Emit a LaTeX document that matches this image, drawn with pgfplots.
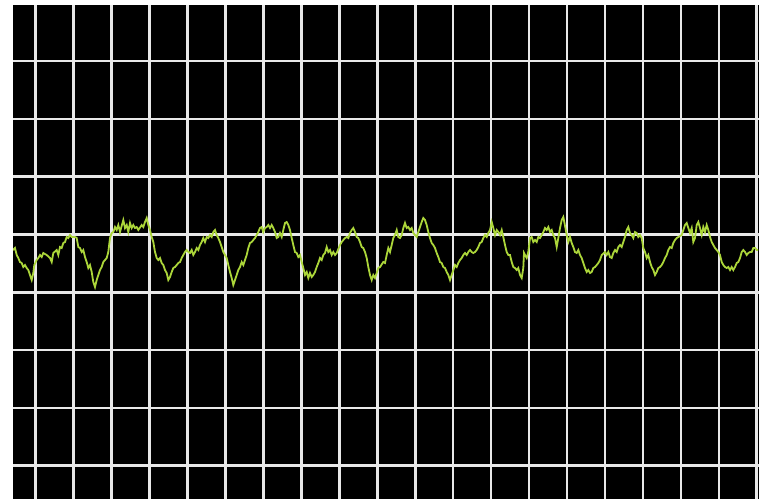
\documentclass[border=0pt]{standalone}
\usepackage{pgfplots}
\pgfplotsset{compat=1.18}
\definecolor{trace}{RGB}{172,214,58}
\definecolor{gridc}{RGB}{232,232,232}
\begin{document}
\begin{tikzpicture}
\path[fill=white, use as bounding box] (-13pt,0pt) rectangle (746pt,499pt);
\begin{axis}[
  at={(0pt,0pt)}, anchor=south west,
  scale only axis, width=746pt, height=494pt,
  xmin=13, xmax=759, ymin=5, ymax=499, y dir=reverse,
  axis background/.style={fill=black},
  axis line style={draw=none},
  major tick length=0pt,
  xticklabels={}, yticklabels={},
  xtick={35.7,73.65,111.6,149.55,187.5,225.45,263.4,301.35,339.3,377.25,415.2,453.15,491.1,529.05,567,604.95,642.9,680.85,718.8,756.75},
  ytick={61,118.8,176.7,234.5,292.3,350.1,407.9,465.7},
  grid=major,
  grid style={draw=gridc, line width=2.6pt},
  clip=true,
]
\addplot[trace, line width=1.8pt, line join=miter] coordinates {
(13,250)(15,248)(16.7,255)(18.3,258)(20,262)(21.7,263)(23.3,267)(25,265)(26.7,268)(28.3,270)(30,275)(31.7,280)(33.3,273)(34.3,265)(36.7,260)(38.3,258)(40,255)(41.7,257)(43.3,253)(46.7,255)(50,258)(51.7,262)(53.3,253)(56.7,250)(58.3,255)(60,247)(61.7,248)(63.3,243)(65,242)(66.7,237)(68.3,238)(70,235)(71.7,237)
(75,237)(76.7,238)(78.3,247)(80,248)(81.7,252)(83.3,250)(85,257)(86.7,262)(88.3,268)(90,265)(91.7,272)(93.3,282)(95,287)(96.7,280)(98.3,275)(100,270)(101.7,267)(103.3,262)(105,260)(106.7,258)(108.3,252)(110,238)
(111.7,233)(113.3,232)(115,227)(116.7,230)(118.3,225)(120,232)(123.3,220)(125,228)(126.7,225)(128.3,232)(130,223)(131.7,228)(133.3,225)
(135,228)(136.7,227)(138.3,230)(141.7,225)(143.3,227)(145,222)(146.7,218)(148.3,225)(150,230)
(151.7,237)(153.3,242)(155,252)(156.7,258)(158.3,260)(160,258)(161.7,263)(163.3,265)(165,270)(166.7,273)(168.3,280)(170,277)(171.7,272)(173.3,268)(175,267)(176.7,265)(178.3,263)(180,262)(181.7,258)(183.3,255)(185,252)(186.7,250)
(188.3,252)(190,253)(191.7,250)(193.3,255)(195,252)(196.7,248)(198.3,250)(200,245)(201.7,242)(203.3,238)(205,242)(206.7,237)(208.3,238)(210,235)(211.7,237)(213.3,232)(215,230)(216.7,235)(218.3,238)(220,242)(221.7,247)(223.3,252)
(225,255)(226.7,258)(228.3,265)(230,272)(231.7,278)(233.3,285)(235,280)(236.7,275)(238.3,270)(240,267)(241.7,262)(243.3,265)(245,260)(246.7,255)(248.3,248)(250,243)(251.7,242)(253.3,240)(255,238)(256.7,235)(258.3,232)
(260,228)(261.7,227)(263.3,232)(265,228)(266.7,227)(268.3,225)(270,228)(271.7,225)(273.3,228)(275,232)(276.7,238)(278.3,237)(280,233)(281.7,237)(283.3,230)(285,223)(286.7,222)(288.3,225)(290,230)(291.7,238)(293.3,245)(295,252)(296.7,253)(298.3,257)(300,255)
(301.7,262)(303.3,268)(305,275)(306.7,272)(308.3,278)(310,273)(311.7,277)(313.3,275)(315,272)(316.7,267)(318.3,263)(320,258)(321.7,260)(323.3,255)(325,253)(326.7,247)(328.3,252)(330,250)(331.7,255)(333.3,252)(335,255)(336.7,253)
(340,245)(341.7,242)(343.3,240)(345,238)(346.7,237)(348.3,238)(350,233)(351.7,230)(353.3,228)(355,232)(356.7,237)(358.3,238)(360,242)(361.7,247)(363.3,248)(365,252)(366.7,258)(368.3,267)(370,275)(371.7,280)(373.3,275)(375,278)(376.7,273)(378.3,268)(380,267)(383.3,262)
(385,263)(386.7,255)(388.3,248)(390,252)(391.7,245)(393.3,238)(395,235)(396.7,230)(398.3,237)(400,238)(401.7,235)(403.3,228)(405,223)(406.7,228)(408.3,227)(410,230)(411.7,228)
(413.3,233)(416.7,237)(418.3,232)(420,227)(421.7,222)(423.3,218)(425,220)(426.7,225)(428.3,232)(430,238)(431.7,243)(433.3,245)(435,248)(436.7,253)(438.3,257)(440,262)(441.7,263)(443.3,267)(445,268)(446.7,272)(448.3,275)(450,280)
(453.3,270)(455,265)(456.7,267)(458.3,263)(460,260)(461.7,258)(463.3,255)(465,253)(466.7,255)(468.3,252)(470,250)(471.7,252)(473.3,253)(475,252)(476.7,250)(478.3,247)(480,243)(481.7,242)(483.3,238)(485,235)(486.7,237)(488.3,233)(490,230)(491.7,222)(493.3,228)(495,235)(496.7,230)(498.3,232)(500,235)(501.7,230)(503.3,237)(505,245)(506.7,252)(508.3,255)
(510,255)(511.7,262)(513.3,267)(515,268)(516.7,270)(518.3,268)(520,275)(521.7,278)(523.3,268)(524,253)(525,255)(526.7,258)(528.3,252)
(530,238)(531.7,237)(533.3,242)(535,240)(536.7,242)(538.3,237)(540,238)(541.7,235)(543.3,232)(545,228)(546.7,230)(548.3,227)(550,232)(551.7,230)(553.3,235)(555,238)(556.7,247)(558.3,238)(560,228)(561.7,220)(563.3,217)(564.3,222)
(566.7,235)(568.3,242)(570,237)(571.7,243)(573.3,247)(575,252)(576.7,253)(578.3,250)(580,255)(581.7,258)(583.3,263)(585,268)(586.7,272)(588.3,270)(590,273)(591.7,272)(593.3,268)(595,267)(596.7,265)(598.3,263)(600,260)(601.7,255)
(605,252)(606.7,255)(608.3,252)(610,257)(611.7,258)(613.3,253)(615,250)(616.7,252)(618.3,247)(620,245)(621.7,247)(623.3,242)(625,237)(626.7,230)(628.3,227)(630,233)(631.7,235)(633.3,238)
(635,232)(636.7,233)(638.3,237)(640,235)(641.7,238)(643.3,248)(645,252)(646.7,258)(648.3,255)(650,262)(651.7,267)(653.3,270)(655,275)(656.7,272)(658.3,268)(660,267)(661.7,265)(663.3,262)(665,258)(666.7,255)(668.3,250)(670,247)(671.7,248)(673.3,243)(675,240)(676.7,238)(678.3,237)
(681.7,235)(683.3,230)(685,225)(686.7,223)(688.3,228)(690,233)(691.7,228)(693.3,242)(695,238)(696.7,225)(698.3,222)(700,228)(701.7,235)(703.3,227)(705,232)(706.7,225)(708.3,230)(710,237)(711.7,242)(713.3,245)(715,248)
(716.7,250)(718.3,252)(720,255)(721.7,262)(723.3,265)(725,267)(726.7,268)(728.3,267)(730,270)(731.7,267)(733.3,270)(735,267)(736.7,263)(738.3,262)(740,258)(741.7,252)(743.3,250)(745,252)(746.7,255)(748.3,253)(750,252)(751.7,252)(753.3,248)(755,248)(756.7,250)(758,250)
};
\end{axis}
\end{tikzpicture}
\end{document}
